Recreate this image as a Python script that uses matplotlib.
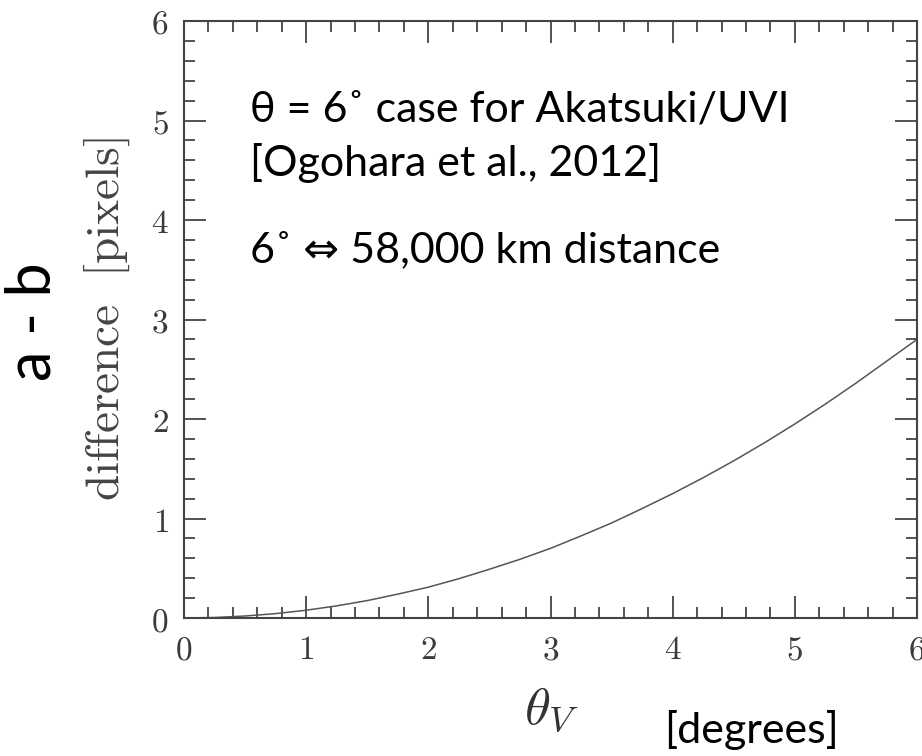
import numpy as np
import matplotlib
matplotlib.use("Agg")
import matplotlib.pyplot as plt
from matplotlib.ticker import MultipleLocator

plt.rcParams['mathtext.fontset'] = 'cm'

# curve
theta_v = [0.0, 0.25, 0.5, 0.75, 1.0, 1.25, 1.5, 1.75, 2.0, 2.25, 2.5, 2.75, 3.0,
           3.25, 3.5, 3.75, 4.0, 4.25, 4.5, 4.75, 5.0, 5.25, 5.5, 5.75, 6.0]
diff_px = [0.0, 0.005, 0.02, 0.044, 0.078, 0.122, 0.175, 0.24, 0.31, 0.395, 0.49, 0.59, 0.70,
           0.825, 0.955, 1.10, 1.25, 1.41, 1.58, 1.76, 1.95, 2.15, 2.36, 2.58, 2.80]

x_ticks = [0, 1, 2, 3, 4, 5, 6]
y_ticks = [0, 1, 2, 3, 4, 5, 6]

note_lines = ["θ = 6˚ case for Akatsuki/UVI", "[Ogohara et al., 2012]", "", "6˚ ⇔ 58,000 km distance"]

fig = plt.figure(figsize=(9.22, 7.56), dpi=100)
ax = fig.add_axes([184/922, 1 - 618/756, 733/922, 597/756])

ax.plot(theta_v, diff_px, color='#555555', lw=1.1)

ax.set_xlim(0, 6)
ax.set_ylim(0, 6)
ax.set_xticks(x_ticks)
ax.set_yticks(y_ticks)
ax.set_xticklabels(['$%d$' % t for t in x_ticks])
ax.set_yticklabels(['$%d$' % t for t in y_ticks])
ax.xaxis.set_minor_locator(MultipleLocator(0.2))
ax.yaxis.set_minor_locator(MultipleLocator(0.2))
ax.tick_params(which='both', direction='in', top=True, right=True, color='#444444', width=1.3)
ax.tick_params(which='major', length=16, labelsize=24, labelcolor='#3a3a3a', pad=11)
ax.tick_params(which='minor', length=8)
for s in ax.spines.values():
    s.set_color('#444444')
    s.set_linewidth(1.5)

# annotation block
font = ['Lato', 'DejaVu Sans']
fig.text(250/922, 1 - 110/756, note_lines[0], fontsize=31, family=font, va='center')
fig.text(250/922, 1 - 163/756, note_lines[1], fontsize=31, family=font, va='center')
fig.text(250/922, 1 - 250/756, note_lines[3], fontsize=31, family=font, va='center')

fig.text(33/922, 1 - 322/756, "a - b", fontsize=44, family=font, rotation=90, ha='center', va='center')
fig.text(107/922, 1 - 319/756, r'$\mathrm{difference\ \ [pixels]}$', fontsize=34, color='#444444',
         rotation=90, ha='center', va='center')
fig.text(552/922, 1 - 708/756, r'$\theta_V$', fontsize=38, color='#333333', ha='center', va='center')
fig.text(751/922, 1 - 730/756, "[degrees]", fontsize=31, family=font, ha='center', va='center')

fig.savefig('out.png', dpi=100)
